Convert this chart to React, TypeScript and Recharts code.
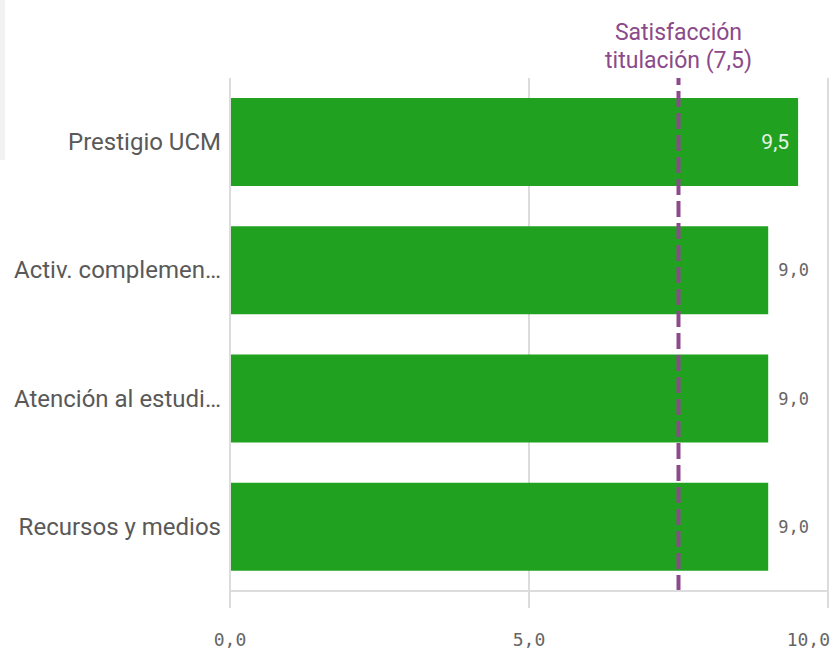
import React from "react";
import { BarChart, Bar, XAxis, YAxis, CartesianGrid, ReferenceLine, LabelList } from "recharts";

const categories = ["Prestigio UCM", "Activ. complemen…", "Atención al estudi…", "Recursos y medios"];
const scores = [9.5, 9.0, 9.0, 9.0];
const xTicks = [0, 5, 10];
const refValue = 7.5;
const refTitle = ["Satisfacción", "titulación (7,5)"];

const data = categories.map((c, i) => ({ name: c, value: scores[i] }));

const fmt = (v: number) => v.toFixed(1).replace(".", ",");

const XTick = (props: any) => {
  const { x, y, payload } = props;
  const anchor = payload.value === 10 ? "end" : "middle";
  const dx = payload.value === 10 ? 2 : 0;
  return (
    <text x={x + dx} y={y + 36} textAnchor={anchor} fill="#666" fontFamily="DejaVu Sans Mono" fontSize={18}>
      {fmt(payload.value)}
    </text>
  );
};

const YTick = (props: any) => {
  const { x, y, payload } = props;
  return (
    <text x={x - 1} y={y} dy={8} textAnchor="end" fill="#595959" fontFamily="Roboto" fontSize={24}>
      {payload.value}
    </text>
  );
};

const ValueLabel = (props: any) => {
  const { x, y, width, height, value } = props;
  const cy = y + height / 2;
  if (value >= 9.5) {
    return (
      <text x={x + width - 9} y={cy} dy={7} textAnchor="end" fill="#e6f3e6" fontFamily="Roboto" fontSize={21}>
        {fmt(value)}
      </text>
    );
  }
  return (
    <text x={x + width + 10} y={cy} dy={6} textAnchor="start" fill="#666" fontFamily="DejaVu Sans Mono" fontSize={17}>
      {fmt(value)}
    </text>
  );
};

const RefLabel = (props: any) => {
  const { viewBox } = props;
  const cx = viewBox.x;
  return (
    <text x={cx} y={viewBox.y - 38} textAnchor="middle" fill="#8b4a8b" fontFamily="Roboto" fontSize={23}>
      <tspan x={cx} dy={0}>{refTitle[0]}</tspan>
      <tspan x={cx} dy={28}>{refTitle[1]}</tspan>
    </text>
  );
};

export default function App() {
  return (
    <div style={{ position: "absolute", left: 0, top: 0, width: 833, height: 656, background: "#fff" }}>
      <div style={{ position: "absolute", left: 0, top: 0, width: 5, height: 160, background: "#f2f2f2" }} />
      <BarChart
        width={833}
        height={656}
        data={data}
        layout="vertical"
        margin={{ top: 78, right: 5, bottom: 0, left: 0 }}
        barCategoryGap={20}
      >
        <CartesianGrid horizontal={false} vertical={true} stroke="#dcdcdc" strokeWidth={2} />
        <XAxis
          type="number"
          domain={[0, 10]}
          ticks={xTicks}
          stroke="#dcdcdc"
          strokeWidth={2}
          tickLine={{ stroke: "#dcdcdc", strokeWidth: 2 }}
          tickSize={17}
          tick={<XTick />}
          height={65}
          interval={0}
        />
        <YAxis
          type="category"
          dataKey="name"
          width={230}
          stroke="#dcdcdc"
          strokeWidth={2}
          tickLine={false}
          tick={<YTick />}
          interval={0}
        />
        <Bar dataKey="value" fill="#20a220" isAnimationActive={false}>
          <LabelList dataKey="value" content={<ValueLabel />} />
        </Bar>
        <ReferenceLine
          x={refValue}
          stroke="#8b4a8b"
          strokeWidth={4}
          strokeDasharray="16 6"
          label={<RefLabel />}
        />
      </BarChart>
    </div>
  );
}
